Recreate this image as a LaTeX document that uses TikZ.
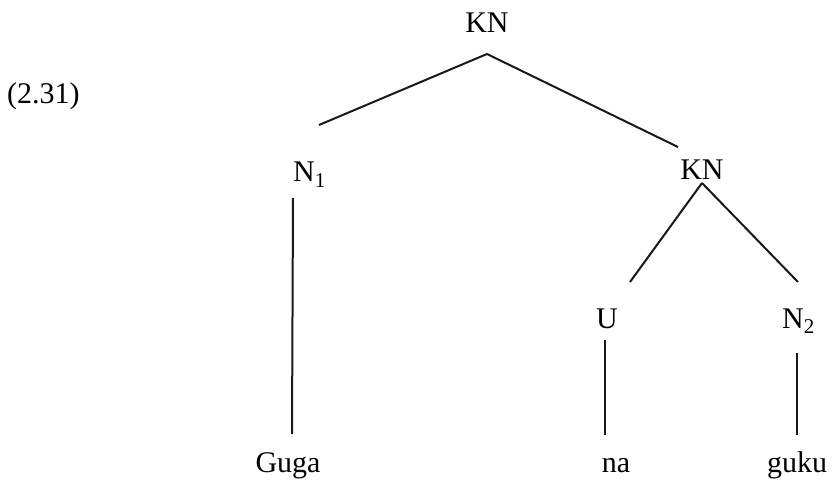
\documentclass[tikz,border=0pt]{standalone}
\usepackage{fontspec}
\setmainfont{Liberation Serif}
\usepackage{tikz}

\begin{document}
\begin{tikzpicture}
[%%%%%%%%%%%%%%%%%%%%%%%%%%%%%%
x=1pt,y=-1pt,
lbl/.style={inner sep=0pt,anchor=base,font=\fontsize{30}{36}\selectfont},
branch/.style={draw=black!90,line width=2pt},
]%%%%%%%%%%%%%%%%%%%%%%%%%%%%%%
\useasboundingbox (0,0) rectangle (839,484);

\node[lbl,anchor=base west] (ex) at (7,104){(2.31)};

\node[lbl] (kn) at (487,33){KN};
\node[lbl,anchor=base west] (n1) at (293,182){N\textsubscript{1}};
\node[lbl] (kn2) at (702,180){KN};
\node[lbl] (u) at (607,328){U};
\node[lbl,anchor=base west] (n2) at (782,328){N\textsubscript{2}};

\node[lbl] (guga) at (288,472){Guga};
\node[lbl] (na) at (616,472){na};
\node[lbl] (guku) at (797,472){guku};

\draw[branch] ([yshift=-21pt]kn.base) -- ([xshift=26pt,yshift=57pt]n1.base west);
\draw[branch] ([yshift=-21pt]kn.base) -- ([xshift=-24pt,yshift=33pt]kn2.base);
\draw[branch] ([yshift=-3pt]kn2.base) -- ([xshift=23pt,yshift=46pt]u.base);
\draw[branch] ([yshift=-3pt]kn2.base) -- ([xshift=16pt,yshift=46pt]n2.base west);

\draw[branch] ([yshift=-16pt]n1.base west) -- ([xshift=4pt,yshift=38pt]guga.base);
\draw[branch] ([xshift=-2pt,yshift=-12pt]u.base) -- ([xshift=-11pt,yshift=37pt]na.base);
\draw[branch] ([xshift=15pt,yshift=-25pt]n2.base west) -- ([yshift=37pt]guku.base);
\end{tikzpicture}
\end{document}
